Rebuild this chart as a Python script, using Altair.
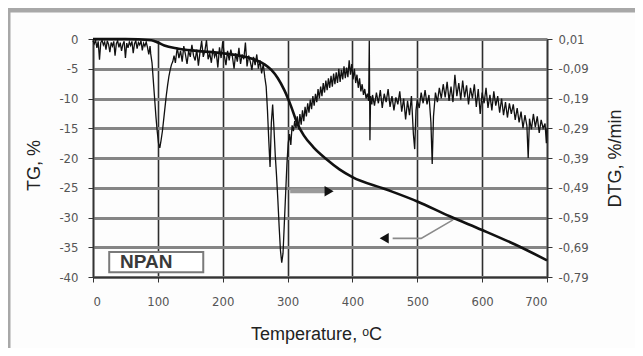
import altair as alt
import pandas as pd

# ---------------- data ----------------
tg_temp = [0, 50, 90, 100, 110, 130, 160, 200, 230, 250, 265, 275, 285, 295, 305, 315,
           325, 340, 360, 380, 400, 450, 500, 550, 600, 650, 700]
tg_value = [0, 0, -0.2, -0.6, -1.1, -1.6, -2.0, -2.4, -2.9, -3.5, -4.3, -5.2, -6.6, -8.6,
            -11.2, -14.2, -16.2, -18.2, -20.2, -21.9, -23.2, -25.2, -27.3, -29.8, -32.1,
            -34.5, -37.2]

dtg_temp = [
    0, 2, 4, 6, 8, 10, 12, 14, 16, 18, 20, 22, 24, 26, 28, 30, 32, 34, 36, 38, 40, 42, 44,
    46, 48, 50, 52, 54, 56, 58, 60, 62, 64, 66, 68, 70, 72, 74, 76, 78, 80, 82, 84, 86, 88,
    89, 91, 93, 95, 97, 99, 101, 103, 105, 107, 109, 111, 113, 115, 117, 119, 121, 123, 125,
    127, 129,
    130, 132.5, 135, 137.5, 140, 142.5, 145, 147.5, 150, 152.5, 155, 157.5, 160, 162.5, 165,
    167.5, 170, 172.5, 175, 177.5, 180, 182.5, 185, 187.5, 190, 192.5, 195, 197.5, 200, 202.5,
    205, 207.5, 210, 212.5, 215, 217.5, 220, 222.5, 225, 227.5, 230, 232.5, 235, 237.5, 240,
    242.5, 245, 247.5, 250, 252.5, 255, 257.5, 260, 262.5, 265,
    267, 269, 271, 273, 275, 277, 279, 281, 283, 285, 287, 289, 291, 293, 295, 297, 299, 301,
    303, 305, 307, 309, 311, 313,
    315, 317, 319, 321, 323, 325, 327, 329, 331, 333, 335, 337, 339, 341, 343, 345, 347, 349,
    351, 353, 355, 357, 359, 361, 363, 365, 367, 369, 371, 373, 375, 377, 379, 381, 383, 385,
    387, 389, 391, 393, 395, 397, 399, 401, 403, 405, 407, 409, 411, 413, 415, 417, 419, 421,
    423, 425, 426, 427, 428, 430,
    431, 434, 437, 440, 443, 446, 449, 452, 455, 458, 461, 464, 467, 470, 473, 476, 479, 482,
    485, 488, 491, 494, 496, 498, 500, 503, 506, 509, 512, 515, 518, 521, 523, 525, 528, 531,
    534, 537, 540, 543, 546, 549, 552, 555, 558, 561, 564, 567, 570, 573, 576, 579, 582, 585,
    588, 591, 594, 597, 600, 603, 606, 609, 612, 615, 618, 621, 624, 627, 630, 633, 636, 639,
    642, 645, 648, 651, 654, 657, 660, 663, 666, 669, 671, 673, 676, 679, 682, 685, 688, 691,
    694, 697, 699, 700,
]
dtg_value = [
    0.004, -0.006, 0.006, -0.020, 0.002, -0.060, -0.002, 0.006, -0.010, 0.000, -0.026, 0.004,
    -0.008, -0.034, -0.002, -0.014, 0.002, -0.046, -0.006, 0.004, -0.018, -0.002, -0.030,
    -0.008, 0.002, -0.054, -0.004, -0.020, 0.000, -0.012, 0.002, -0.038, -0.006, 0.004,
    -0.022, -0.002, -0.010, 0.004, -0.028, -0.004, -0.014, 0.000, -0.018, -0.042, -0.014,
    -0.040, -0.070, -0.130, -0.190, -0.250, -0.300, -0.340, -0.356, -0.330, -0.300, -0.260,
    -0.220, -0.180, -0.146, -0.116, -0.094, -0.076, -0.066, -0.046, -0.070, -0.034,
    -0.020, -0.054, -0.030, -0.066, -0.014, -0.042, -0.074, -0.030, -0.050, -0.010, -0.046,
    -0.062, -0.026, -0.080, -0.034, 0.004, -0.050, -0.030, 0.006, -0.058, -0.038, -0.070,
    -0.022, -0.050, -0.034, -0.086, -0.018, -0.054, 0.002, -0.046, -0.078, -0.030, -0.062,
    -0.026, -0.050, -0.090, -0.038, -0.066, -0.020, -0.074, -0.042, -0.058, -0.002, -0.082,
    -0.046, -0.066, -0.094, -0.050, -0.078, -0.042, -0.090, -0.062, -0.106, -0.074, -0.120,
    -0.150, -0.230, -0.330, -0.420, -0.270, -0.210, -0.290, -0.380, -0.450, -0.530, -0.620,
    -0.700, -0.742, -0.710, -0.610, -0.510, -0.410, -0.340, -0.310, -0.346, -0.280, -0.300,
    -0.266, -0.290,
    -0.250, -0.294, -0.242, -0.278, -0.230, -0.266, -0.218, -0.250, -0.206, -0.238, -0.194,
    -0.226, -0.182, -0.214, -0.174, -0.202, -0.158, -0.190, -0.150, -0.182, -0.138, -0.170,
    -0.130, -0.162, -0.122, -0.154, -0.114, -0.150, -0.106, -0.142, -0.102, -0.138, -0.090,
    -0.134, -0.094, -0.126, -0.082, -0.122, -0.086, -0.118, -0.062, -0.110, -0.074, -0.126,
    -0.090, -0.138, -0.110, -0.154, -0.122, -0.166, -0.142, -0.178, -0.158, -0.190, -0.174,
    -0.198, 0.004, -0.330, -0.182, -0.210,
    -0.178, -0.214, -0.170, -0.206, -0.162, -0.222, -0.174, -0.202, -0.158, -0.218, -0.182,
    -0.230, -0.186, -0.210, -0.166, -0.234, -0.190, -0.260, -0.198, -0.246, -0.182, -0.310,
    -0.360, -0.230, -0.194, -0.222, -0.170, -0.206, -0.162, -0.210, -0.178, -0.270, -0.410,
    -0.250, -0.170, -0.202, -0.154, -0.190, -0.142, -0.186, -0.134, -0.198, -0.150, -0.202,
    -0.110, -0.182, -0.138, -0.194, -0.130, -0.186, -0.146, -0.210, -0.154, -0.190, -0.142,
    -0.218, -0.158, -0.242, -0.170, -0.206, -0.154, -0.222, -0.178, -0.230, -0.166, -0.214,
    -0.182, -0.238, -0.190, -0.246, -0.202, -0.254, -0.206, -0.242, -0.210, -0.262, -0.222,
    -0.270, -0.234, -0.290, -0.246, -0.282, -0.390, -0.258, -0.294, -0.242, -0.286, -0.250,
    -0.306, -0.262, -0.290, -0.274, -0.340, -0.290,
]

x_ticks = [0, 100, 200, 300, 400, 500, 600, 700]
tg_ticks = [0, -5, -10, -15, -20, -25, -30, -35, -40]
dtg_ticks = [0.01, -0.09, -0.19, -0.29, -0.39, -0.49, -0.59, -0.69, -0.79]

# annotations (temperature, TG %)
sample_label = ["NPAN"]
label_temp = [82]
label_tg = [-37.4]
box_temp = [25]
box_temp2 = [170]
box_tg = [-35.8]
box_tg2 = [-39.2]
arrow_r_temp = [304, 358]
arrow_r_tg = [-25.5, -25.5]
arrow_r_head_temp = [364]
arrow_r_head_tg = [-25.6]
arrow_l_temp = [555, 506, 462]
arrow_l_tg = [-30.4, -33.5, -33.5]
arrow_l_head_temp = [449]
arrow_l_head_tg = [-33.5]

# ---------------- styling ----------------
LABEL_FONT = "Liberation Sans Narrow, DejaVu Sans Condensed, Arial Narrow, sans-serif"
TITLE_FONT = "Liberation Sans, Arial, sans-serif"

tg_df = pd.DataFrame({"t": tg_temp, "v": tg_value})
dtg_df = pd.DataFrame({"t": dtg_temp, "d": dtg_value})

x_axis = alt.Axis(
    values=x_ticks, title="Temperature, ᵒC", grid=True, gridColor="#2e2e2e", gridWidth=1.6,
    domainColor="#333333", domainWidth=1.6, tickColor="#333333", tickSize=5,
    labelPadding=13, labelFont=LABEL_FONT, labelFontSize=13, labelColor="#555555",
    titleFont=TITLE_FONT, titleFontSize=18, titleFontWeight="normal", titleColor="#222222",
    titleX=223, titleY=57, titleBaseline="middle", titleAlign="center",
)
x_enc = alt.X("t:Q", scale=alt.Scale(domain=[0, 700], nice=False, zero=False), axis=x_axis)

y_axis = alt.Axis(
    values=tg_ticks, title="TG, %", grid=True, gridColor="#858585", gridWidth=3,
    domainColor="#333333", domainWidth=1.6, tickColor="#333333", tickSize=5,
    labelPadding=10, labelFont=LABEL_FONT, labelFontSize=13, labelColor="#555555",
    labelExpr="'' + datum.value",
    titleFont=TITLE_FONT, titleFontSize=18, titleFontWeight="normal", titleColor="#222222",
    titleAngle=270, titleX=-59, titleY=126, titleAlign="center", titleBaseline="middle",
)
y_scale = alt.Scale(domain=[-40, 0], nice=False, zero=False)


def y_tg(field):
    return alt.Y(field, scale=y_scale, axis=y_axis)


frame_top = alt.Chart(pd.DataFrame({"k": [0]})).mark_rect(color="#a8a8a8").encode(
    x=alt.value(-85), x2=alt.value(542), y=alt.value(-31), y2=alt.value(-26.5)
)
frame_left = alt.Chart(pd.DataFrame({"k": [0]})).mark_rect(color="#a8a8a8").encode(
    x=alt.value(-85), x2=alt.value(-82.5), y=alt.value(-31), y2=alt.value(309)
)

tg_line = alt.Chart(tg_df).mark_line(color="#111111", strokeWidth=2.6, interpolate="monotone").encode(
    x=x_enc, y=y_tg("v:Q")
)

box_df = pd.DataFrame({"t": box_temp, "t2": box_temp2, "v": box_tg, "v2": box_tg2})
box = alt.Chart(box_df).mark_rect(fill="white", stroke="#7a7a7a", strokeWidth=2).encode(
    x=x_enc, x2="t2:Q", y=y_tg("v:Q"), y2="v2:Q"
)
label_df = pd.DataFrame({"t": label_temp, "v": label_tg, "s": sample_label})
label = alt.Chart(label_df).mark_text(
    font=TITLE_FONT, fontSize=19, fontWeight="bold", color="#3a3a3a", baseline="middle"
).encode(x=x_enc, y=y_tg("v:Q"), text="s:N")

ar_df = pd.DataFrame({"t": arrow_r_temp, "v": arrow_r_tg})
arrow_r = alt.Chart(ar_df).mark_line(color="#9a9a9a", strokeWidth=5).encode(x=x_enc, y=y_tg("v:Q"))
arh_df = pd.DataFrame({"t": arrow_r_head_temp, "v": arrow_r_head_tg})
arrow_r_head = alt.Chart(arh_df).mark_point(
    shape="triangle-right", filled=True, color="#111111", size=110, opacity=1
).encode(x=x_enc, y=y_tg("v:Q"))

al_df = pd.DataFrame({"t": arrow_l_temp, "v": arrow_l_tg, "o": [0, 1, 2]})
arrow_l = alt.Chart(al_df).mark_line(color="#8a8a8a", strokeWidth=1.6).encode(
    x=x_enc, y=y_tg("v:Q"), order="o:Q"
)
alh_df = pd.DataFrame({"t": arrow_l_head_temp, "v": arrow_l_head_tg})
arrow_l_head = alt.Chart(alh_df).mark_point(
    shape="triangle-left", filled=True, color="#111111", size=110, opacity=1
).encode(x=x_enc, y=y_tg("v:Q"))

left_layer = alt.layer(frame_top, frame_left, box, label, arrow_r, arrow_r_head, arrow_l,
                       arrow_l_head, tg_line)

dtg_line = alt.Chart(dtg_df).mark_line(color="#111111", strokeWidth=1.3).encode(
    x=x_enc,
    y=alt.Y(
        "d:Q",
        scale=alt.Scale(domain=[-0.79, 0.01], nice=False, zero=False),
        axis=alt.Axis(
            orient="right", values=dtg_ticks, title="DTG, %/min", grid=False,
            domainColor="#333333", domainWidth=1.6, tickColor="#333333", tickSize=5,
            labelPadding=6, labelFont=LABEL_FONT, labelFontSize=13, labelColor="#555555",
            labelExpr="replace(replace(format(datum.value, '.2f'), '.', ','), '\u2212', '-')",
            titleFont=TITLE_FONT, titleFontSize=18, titleFontWeight="normal",
            titleColor="#222222", titleAngle=270, titleX=68, titleY=119,
            titleAlign="center", titleBaseline="middle",
        ),
    ),
)

chart = (
    alt.layer(left_layer, dtg_line)
    .resolve_scale(y="independent")
    .properties(
        width=454, height=238,
        padding={"left": 85, "top": 31, "right": 88, "bottom": 71},
        autosize=alt.AutoSizeParams(type="none"),
        background="#fdfdfd",
    )
    .configure_view(strokeWidth=0)
)

chart.save("out.html", embed_options={"renderer": "svg", "actions": False})
